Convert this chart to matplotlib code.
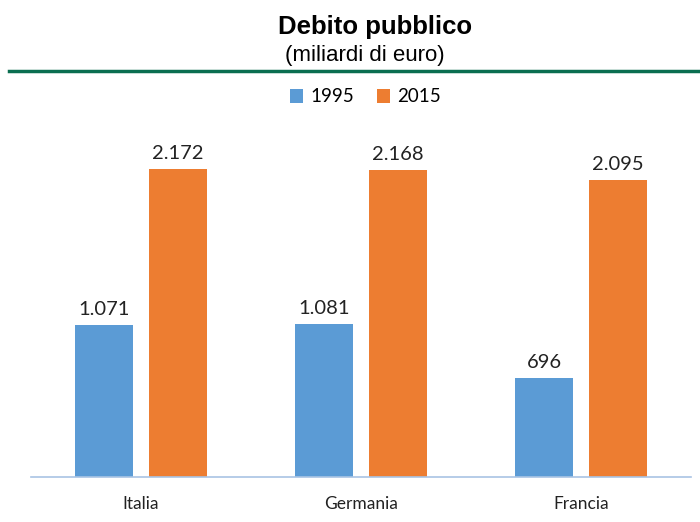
import matplotlib
matplotlib.use("Agg")
import matplotlib.pyplot as plt
import numpy as np

# data
paesi = ["Italia", "Germania", "Francia"]
debito_1995 = [1071, 1081, 696]
debito_2015 = [2172, 2168, 2095]
anni = ["1995", "2015"]

def fmt_it(v):  # italian thousands separator
    return f"{v:,}".replace(",", ".")

fig = plt.figure(figsize=(7, 5.22), dpi=100)
ax = fig.add_axes([31/700, 1 - 477/522, 660/700, 354.5/522])

x = np.arange(len(paesi))
w = 0.264
off = 0.168
b1 = ax.bar(x - off, debito_1995, w, color="#5b9bd5", label=anni[0])
b2 = ax.bar(x + off, debito_2015, w, color="#ed7d31", label=anni[1])

for bars in (b1, b2):
    for r in bars:
        ax.annotate(fmt_it(int(r.get_height())), (r.get_x() + r.get_width()/2, r.get_height()),
                    xytext=(0, 5), textcoords="offset points", ha="center", va="bottom",
                    fontsize=14.5, family="Lato", color="#222222")

ax.set_xlim(-0.5, 2.5)
ax.set_ylim(0, 2500)
ax.set_xticks(x)
ax.set_xticklabels(paesi, fontsize=12.5, family="Lato", color="#222222")
ax.tick_params(axis="x", length=0, pad=14)
ax.set_yticks([])
for s in ["top", "left", "right"]:
    ax.spines[s].set_visible(False)
ax.spines["bottom"].set_color("#a9c4e4")
ax.spines["bottom"].set_linewidth(1.2)

leg = ax.legend(loc="center", ncol=2, frameon=False,
                prop={"family": "Lato", "size": 13.5}, handlelength=0.7, handleheight=0.7,
                columnspacing=1.2, handletextpad=0.4)
leg.set_bbox_to_anchor((0.522, 1 - 97/522), transform=fig.transFigure)

fig.text(375/700, 1 - 27/522, "Debito pubblico", ha="center", va="center",
         fontsize=18.5, fontweight="bold", family="Liberation Sans")
fig.text(365/700, 1 - 56/522, "(miliardi di euro)", ha="center", va="center",
         fontsize=16, family="Liberation Sans")
fig.add_artist(plt.Line2D([9/700, 1], [1 - 71/522, 1 - 71/522], color="#0a6e50", lw=2.5,
                          transform=fig.transFigure))

fig.savefig("out.png", dpi=100)
